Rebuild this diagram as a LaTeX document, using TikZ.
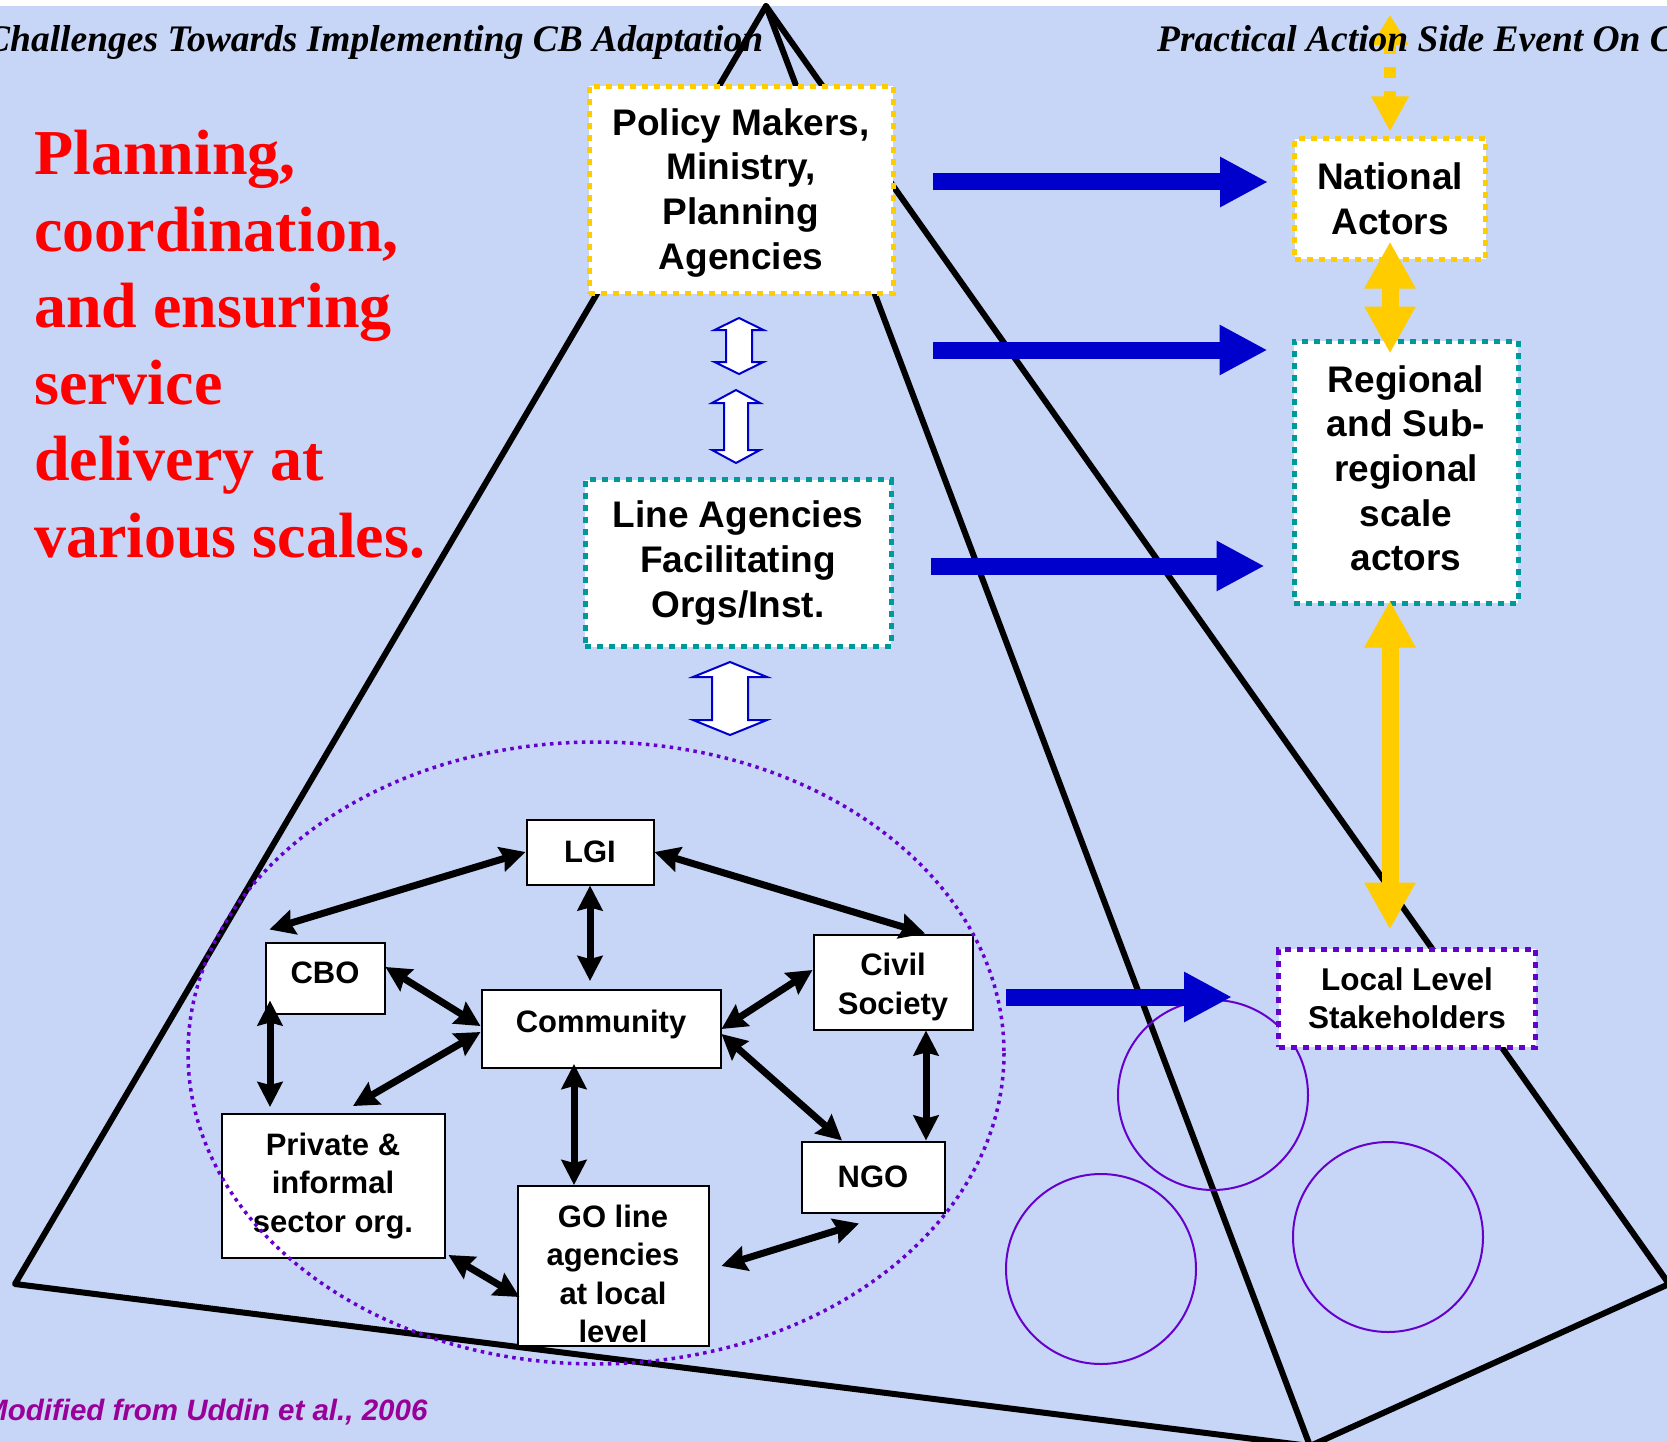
\documentclass[tikz,border=0pt]{standalone}
\usepackage{fontspec}
\setmainfont{Liberation Serif}
\setsansfont{Liberation Sans}
\usepackage{tikz}
\usetikzlibrary{arrows.meta,positioning,calc}
\usepackage{xcolor}
\definecolor{bgblue}{RGB}{199,213,246}
\definecolor{dfgold}{RGB}{255,204,0}
\definecolor{dfteal}{RGB}{0,153,153}
\definecolor{dfpurple}{RGB}{102,0,204}
\definecolor{dfnavy}{RGB}{0,0,204}
\definecolor{dfmagenta}{RGB}{153,0,153}
\tikzstyle{edge} = [line width=6pt, line cap=round, line join=round]
\tikzstyle{bigbox} = [rectangle, fill=white, line width=5pt, dash pattern=on 6pt off 6pt, align=center, inner sep=0pt, font=\sffamily\bfseries\fontsize{37}{44.7}\selectfont]
\tikzstyle{smallbox} = [rectangle, fill=white, draw=black, line width=2pt, align=center, inner sep=0pt, font=\sffamily\bfseries\fontsize{31}{38.5}\selectfont]
\tikzstyle{biarrow} = [line width=7pt, {Stealth[length=25pt,width=25pt,inset=3pt]}-{Stealth[length=25pt,width=25pt,inset=3pt]}]
\tikzstyle{bluearrow} = [line width=17pt, color=dfnavy, -{Triangle[length=48pt,width=47pt]}]
\tikzstyle{goldarrow} = [line width=17pt, color=dfgold, {Triangle[length=47pt,width=48pt]}-{Triangle[length=47pt,width=48pt]}]
\tikzstyle{hollowarrow} = [draw=dfnavy, fill=white, line width=2pt, line join=miter]
\tikzstyle{titletext} = [inner sep=0pt, font=\rmfamily\bfseries\itshape\fontsize{37.5}{40}\selectfont]
% up-down block arrow: x, top, bottom, half head width, half shaft width, head height
\newcommand{\hollowud}[6]{%
  \draw[hollowarrow] (#1,#2) -- ++(#4,#6) -- ++(#5-#4,0) -- (#1+#5,#3-#6) -- ++(#4-#5,0) -- (#1,#3)
    -- ++(-#4,-#6) -- ++(#4-#5,0) -- (#1-#5,#2+#6) -- ++(#5-#4,0) -- cycle;}

\begin{document}
\begin{tikzpicture}[x=1pt, y=-1pt]
\useasboundingbox (0,0) rectangle (1667,1442);
\clip (0,0) rectangle (1667,1442);
\fill[bgblue] (0,6) rectangle (1667,1442);

% pyramid
\coordinate (apex) at (766,6);
\coordinate (bl) at (15,1284);
\coordinate (bm) at (1310,1446);
\coordinate (br) at (1669,1284);
\draw[edge] (bl) -- (apex) -- (br) -- (bm) -- cycle;
\draw[edge] (apex) -- (bm);

% local groups
\draw[dfpurple, line width=2pt] (1213,1095) circle [radius=95];
\draw[dfpurple, line width=2pt] (1101,1269) circle [radius=95];
\draw[dfpurple, line width=2pt] (1388,1237) circle [radius=95];

% scale boxes
\node[bigbox, draw=dfgold, minimum width=304pt, minimum height=207pt] (policy) at (741,190) {\rule{0pt}{32pt}Policy Makers,\\Ministry,\\Planning\\Agencies};
\node[bigbox, draw=dfteal, minimum width=306pt, minimum height=167pt] (lineag) at (738,563) {Line Agencies\\Facilitating\\Orgs/Inst.};
\node[bigbox, draw=dfgold, minimum width=191pt, minimum height=120pt] (national) at (1390,199) {National\\Actors};
\node[bigbox, draw=dfteal, minimum width=224pt, minimum height=262pt] (regional) at (1406,472) {Regional\\and Sub-\\regional\\scale\\actors\rule[-8pt]{0pt}{0pt}};
\node[bigbox, draw=dfpurple, minimum width=257pt, minimum height=98pt, font=\sffamily\bfseries\fontsize{31.5}{38}\selectfont] (local) at (1407,998) {Local Level\\Stakeholders};

% local actors
\node[smallbox, minimum width=127pt, minimum height=65pt] (lgi) at (590,852) {LGI};
\node[smallbox, minimum width=119pt, minimum height=71pt] (cbo) at (325,978) {CBO\rule[-10pt]{0pt}{0pt}};
\node[smallbox, minimum width=239pt, minimum height=78pt] (comm) at (601,1029) {Community\rule[-16pt]{0pt}{0pt}};
\node[smallbox, minimum width=159pt, minimum height=95pt] (civil) at (893,982) {\rule{0pt}{32pt}Civil\\Society};
\node[smallbox, minimum width=223pt, minimum height=144pt] (priv) at (333,1186) {Private \&\\informal\\sector org.};
\node[smallbox, minimum width=191pt, minimum height=160pt] (go) at (613,1266) {\rule{0pt}{38pt}GO line\\agencies\\at local\\level};
\node[smallbox, minimum width=143pt, minimum height=71pt] (ngo) at (873,1177) {NGO};

\draw[dfpurple, line width=3.5pt, dash pattern=on 3.5pt off 4.5pt] (596,1053) ellipse [x radius=408, y radius=311];

\draw[biarrow] (lgi.west) -- ([xshift=5pt,yshift=12pt]cbo.north west);
\draw[biarrow] (lgi.east) -- ([xshift=32pt]civil.north);
\draw[biarrow, shorten >=8pt] (lgi.south) -- (lgi.south |- comm.north);
\draw[biarrow] ([yshift=11pt]cbo.east) -- ([yshift=3pt]comm.west);
\draw[biarrow] ([xshift=-55pt,yshift=14pt]cbo.south) -- ([xshift=-63pt,yshift=6pt]priv.north);
\draw[biarrow] ([xshift=20pt,yshift=7pt]priv.north) -- ([yshift=-3pt]comm.west);
\draw[biarrow] ([yshift=12pt]civil.west) -- (comm.east);
\draw[biarrow] ([yshift=-5pt]comm.east) -- ([xshift=-31pt]ngo.north);
\draw[biarrow] ([xshift=33pt]civil.south) -- ([xshift=33pt]civil.south |- ngo.north);
\draw[biarrow] ([xshift=-27pt,yshift=5pt]comm.south) -- ([xshift=-27pt]comm.south |- go.north);
\draw[biarrow] ([xshift=3pt,yshift=4pt]priv.south east) -- ([xshift=3pt,yshift=-31pt]go.west);
\draw[biarrow] ([xshift=12pt]go.east) -- ([xshift=-14pt,yshift=-10pt]ngo.south);

% links to the scales
\coordinate (na) at (933,182);
\coordinate (ra) at (933,350);
\coordinate (la) at (931,566);
\coordinate (sa) at (1006,997);
\draw[bluearrow, shorten >=24pt] (na) -- (na -| national.west);
\draw[bluearrow, shorten >=24pt] (ra) -- (ra -| regional.west);
\draw[bluearrow, shorten >=27pt] (la) -- (la -| regional.west);
\draw[bluearrow, shorten >=44pt] (sa) -- (sa -| local.west);

\hollowud{739}{318}{374}{24.5}{13}{12}
\hollowud{736}{390}{463}{24}{12}{13}
\hollowud{730}{662}{735}{37}{18}{15}

\coordinate (gtop) at (1390,15);
\draw[goldarrow, line width=12pt, dash pattern=on 11pt off 13pt, {Triangle[length=30pt,width=35pt]}-{Triangle[length=35pt,width=35pt]}, shorten >=5pt] (gtop) -- (national.north);
\draw[goldarrow, shorten <=-20pt, shorten >=-15pt] (national.south) -- (national.south |- regional.north);
\draw[goldarrow, shorten <=-5pt, shorten >=17pt] (national.south |- regional.south) -- (national.south |- local.north);

% texts
\node[titletext, anchor=base west] (title) at (-15,52) {Challenges Towards Implementing CB Adaptation};
\node[titletext, anchor=base west] (event) at (1157,52) {Practical Action Side Event On C};
\node[anchor=north west, inner sep=0pt, align=left, text=red, font=\rmfamily\bfseries\fontsize{64}{76.5}\selectfont] (aim) at (34,130) {Planning,\\coordination,\\and ensuring\\service\\delivery at\\various scales.};
\node[anchor=base west, inner sep=0pt, text=dfmagenta, font=\sffamily\bfseries\itshape\fontsize{29.5}{32}\selectfont] (credit) at (-17,1420) {Modified from Uddin et al., 2006};
\end{tikzpicture}
\end{document}
